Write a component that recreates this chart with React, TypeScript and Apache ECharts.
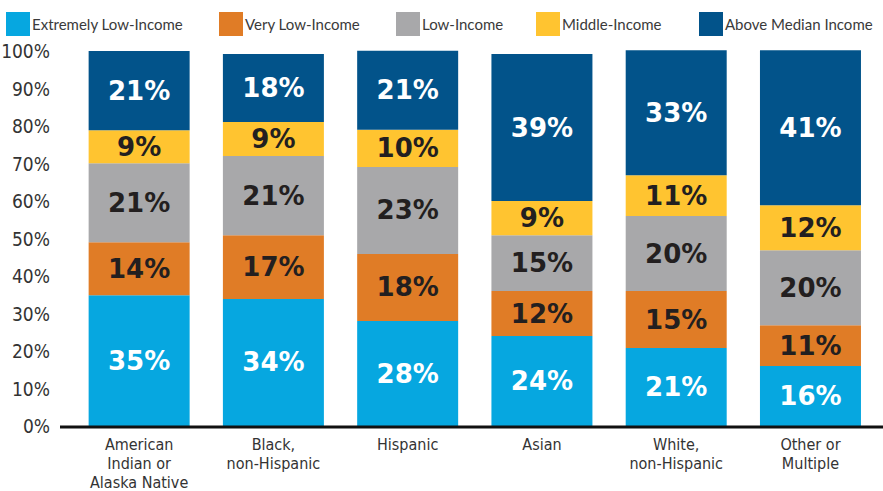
import React, { useEffect, useRef } from "react";
import * as echarts from "echarts";

const categories = [
  "American\nIndian or\nAlaska Native",
  "Black,\nnon-Hispanic",
  "Hispanic",
  "Asian",
  "White,\nnon-Hispanic",
  "Other or\nMultiple",
];
const seriesNames = [
  "Extremely Low-Income",
  "Very Low-Income",
  "Low-Income",
  "Middle-Income",
  "Above Median Income",
];
const extremelyLow = [34.9, 33.9, 28.0, 24.0, 20.8, 16.0];
const veryLow = [14.1, 17.0, 17.9, 12.0, 15.2, 10.9];
const low = [21.1, 21.1, 23.2, 14.9, 20.0, 20.0];
const middle = [8.8, 9.1, 9.9, 9.1, 10.9, 12.0];
const aboveMedian = [21.1, 18.1, 21.1, 39.2, 33.3, 41.3];
const yTicks = [0, 10, 20, 30, 40, 50, 60, 70, 80, 90, 100];

const colors = ["#06A7E0", "#E07C26", "#A8A8AA", "#FFC430", "#02538A"];
const labelColors = ["#ffffff", "#231f20", "#231f20", "#231f20", "#ffffff"];
const legendLefts = [6, 219, 396, 536, 699];
const narrowFont = "'Liberation Sans Narrow', 'DejaVu Sans Condensed', sans-serif";

export default function App() {
  const ref = useRef<HTMLDivElement>(null);
  useEffect(() => {
    if (!ref.current) return;
    const chart = echarts.init(ref.current, undefined, { renderer: "svg" });
    const data = [extremelyLow, veryLow, low, middle, aboveMedian];
    const option: any = {
      animation: false,
      legend: seriesNames.map((n, i) => ({
        data: [n],
        left: legendLefts[i],
        top: 12,
        padding: 0,
        itemWidth: 24,
        itemHeight: 24,
        icon: "rect",
        selectedMode: false,
        textStyle: {
          fontFamily: "Lato",
          fontSize: 15,
          color: "#3a3a3a",
          padding: [0, 0, 0, -3],
        },
      })),
      grid: {
        left: 72,
        right: 5.4,
        top: 51,
        bottom: 65,
        containLabel: false,
        outerBoundsMode: "none",
      },
      xAxis: {
        type: "category",
        data: categories,
        axisLine: { show: false },
        axisTick: { show: false },
        axisLabel: {
          fontFamily: narrowFont,
          fontSize: 16,
          lineHeight: 19,
          color: "#333333",
          margin: 9,
          interval: 0,
        },
      },
      yAxis: {
        type: "value",
        min: yTicks[0],
        max: yTicks[yTicks.length - 1],
        interval: 10,
        splitLine: { show: false },
        axisLine: { show: false },
        axisTick: { show: false },
        axisLabel: {
          formatter: "{value}%",
          fontFamily: narrowFont,
          fontSize: 19,
          color: "#333333",
          margin: 22,
          padding: [3, 0, 0, 0],
        },
      },
      graphic: [
        {
          type: "line",
          shape: { x1: 60, y1: 427, x2: 883, y2: 427 },
          style: { stroke: "#111111", lineWidth: 3 },
          z: 100,
        },
      ],
      series: seriesNames.map((n, i) => ({
        name: n,
        type: "bar",
        stack: "total",
        barWidth: 101,
        clip: false,
        data: data[i],
        itemStyle: { color: colors[i] },
        label: {
          show: true,
          position: "inside",
          formatter: (p: any) => Math.round(p.value) + "%",
          fontFamily: "DejaVu Sans",
          fontWeight: "bold",
          fontSize: 26,
          color: labelColors[i],
        },
      })),
    };
    chart.setOption(option);
    return () => chart.dispose();
  }, []);
  return <div ref={ref} style={{ width: 883, height: 491, position: "absolute", left: 0, top: 0 }} />;
}
